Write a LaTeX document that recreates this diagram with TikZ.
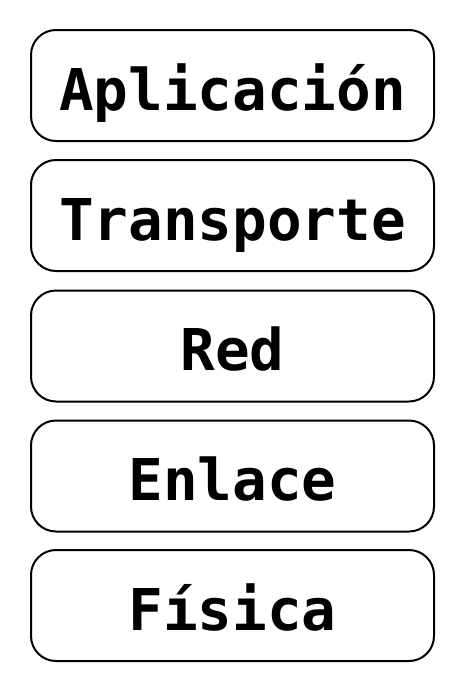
\documentclass[tikz,border=0pt]{standalone}
\usepackage{fontspec}
\newfontfamily\layerfont{DejaVu Sans Mono}
\usepackage{tikz}
\usetikzlibrary{positioning}
\tikzstyle{layer} = [draw=black, line width=2pt, rounded corners=25pt, minimum width=403pt, minimum height=111pt, text height=49pt, text depth=0pt, inner sep=0pt, font=\layerfont\bfseries\fontsize{57.6}{60}\selectfont]

\begin{document}
\begin{tikzpicture}[x=1pt,y=1pt]
\useasboundingbox (0,0) rectangle (464,-691);
\node[layer] (app) at (232.5,-85.5) {Aplicación};
\node[layer] (trans) at (232.5,-215.5) {Transporte};
\node[layer] (red) at (232.5,-346) {Red};
\node[layer] (enl) at (232.5,-476) {Enlace};
\node[layer] (fis) at (232.5,-605.5) {Física};
\end{tikzpicture}
\end{document}
